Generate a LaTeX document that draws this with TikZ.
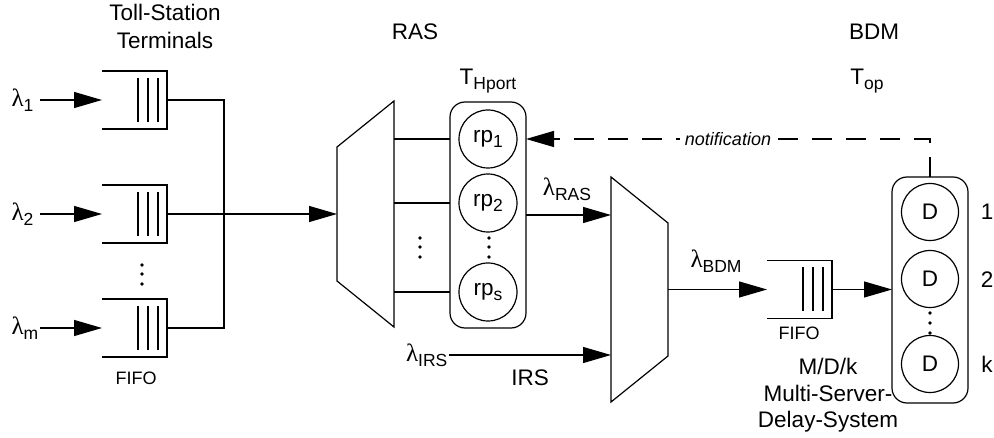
\documentclass[tikz,border=0pt]{standalone}
\usepackage{fontspec}
\setmainfont{Liberation Sans}
\newfontfamily\lamfont{Liberation Serif}
\usetikzlibrary{arrows.meta}
\newcommand\sbs[1]{\raisebox{-5pt}{\fontsize{17.5}{17.5}\selectfont #1}}
\newcommand\lam{{\lamfont\fontsize{25}{25}\selectfont λ}}
\newcommand\fifoq[3]{%
  \node[qbox] (#1) at (#2,#3) {};
  \draw (#1.north west) -- (#1.north east) -- (#1.south east) -- (#1.south west);
  \foreach \dx in {-29,-19,-9}{\draw ([xshift=\dx pt, yshift=-7pt]#1.north east) -- ([xshift=\dx pt, yshift=7pt]#1.south east);}
}
\begin{document}
\begin{tikzpicture}[x=1pt,y=-1pt, line width=1.2pt, font=\fontsize{22.5}{27}\selectfont,
  arr/.style={-{Triangle[length=28pt,width=16pt]}},
  qbox/.style={rectangle, minimum width=65pt, minimum height=58pt, inner sep=0pt, outer sep=0pt},
  srv/.style={circle, draw, minimum size=58pt, inner sep=0pt},
  pool/.style={rectangle, rounded corners=15pt, draw, minimum width=76pt, minimum height=226pt, inner sep=0pt, outer sep=0pt},
  hidden/.style={rectangle, inner sep=0pt, outer sep=0pt},
  lbl/.style={inner sep=1pt},
  smalltext/.style={font=\fontsize{18}{21}\selectfont},
  notestyle/.style={dash pattern=on 20pt off 14pt}]
\useasboundingbox (0,0) rectangle (994,438);

% headings
\node[anchor=base] (h1) at (165,21) {Toll-Station};
\node[anchor=base] (h2) at (165,49) {Terminals};
\node[anchor=base] (hras) at (415,40) {RAS};
\node[anchor=base] (hbdm) at (874,40) {BDM};
\node[anchor=base] (thp) at (488,85) {T\sbs{Hport}};
\node[anchor=base] (top) at (867,85) {T\sbs{op}};

% toll-station queues
\fifoq{q1}{134.5}{100}
\fifoq{q2}{134.5}{214}
\fifoq{qm}{134.5}{328}
\foreach \yy in {265,274,284} \fill (142,\yy) circle (1.9pt);
\node[smalltext] (fifo1) at (136,378) {FIFO};

\node[anchor=west, lbl] (l1) at (10,100) {\lam\sbs{1}};
\node[anchor=west, lbl] (l2) at (10,214) {\lam\sbs{2}};
\node[anchor=west, lbl] (lm) at (10,328) {\lam\sbs{m}};
\draw[arr] ([xshift=5pt]l1.east) -- (l1.east -| q1.west);
\draw[arr] ([xshift=5pt]l2.east) -- (l2.east -| q2.west);
\draw[arr] (lm.east) -- (lm.east -| qm.west);

% trapezoid 1
\node[hidden, minimum width=57pt, minimum height=226pt] (trap1) at (365.5,214) {};
\draw ([yshift=-46pt]trap1.north west) -- (trap1.north east) -- (trap1.south east) -- ([yshift=46pt]trap1.south west) -- cycle;
\coordinate (join) at (224,214);
\draw (q1.east) -- (q1.east -| join) -- (qm.east -| join) -- (qm.east);
\draw[arr] (q2.east) -- (q2.east -| trap1.west);

% RAS pool
\node[pool] (ras) at (488,215) {};
\node[srv] (rp1) at (488,139) {rp\sbs{1}};
\node[srv] (rp2) at (488,203) {rp\sbs{2}};
\node[srv] (rps) at (488,292) {rp\sbs{s}};
\foreach \yy in {238,247,257} {\fill (489,\yy) circle (1.9pt); \fill (420,\yy) circle (1.9pt);}
\draw (rp1 -| trap1.east) -- (rp1 -| ras.west);
\draw (rp2 -| trap1.east) -- (rp2 -| ras.west);
\draw (rps -| trap1.east) -- (rps -| ras.west);

% trapezoid 2
\node[hidden, minimum width=57pt, minimum height=225pt] (trap2) at (639.5,289.5) {};
\draw (trap2.north west) -- ([yshift=-46pt]trap2.north east) -- ([yshift=46pt]trap2.south east) -- (trap2.south west) -- cycle;
\draw[arr] (ras.east) -- (ras.east -| trap2.west);
\node (lras) at (567,189) {\lam\sbs{RAS}};
\node[anchor=east, lbl] (lirs) at (449,355) {\lam\sbs{IRS}};
\draw[arr] (lirs.east) -- (lirs.east -| trap2.west);
\node (irs) at (530,378) {IRS};

% BDM queue
\fifoq{qb}{799.5}{289.5}
\node[smalltext] (fifo2) at (799,333) {FIFO};
\draw[arr] (trap2.east) -- (trap2.east -| qb.west);
\node (lbdm) at (716,261) {\lam\sbs{BDM}};

% BDM pool
\node[pool] (bdm) at (930,290) {};
\node[srv, minimum size=57pt] (d1) at (930,212) {D};
\node[srv, minimum size=57pt] (d2) at (930,279) {D};
\node[srv, minimum size=57pt] (dk) at (930,364) {D};
\foreach \yy in {313,323,333} \fill (930,\yy) circle (1.9pt);
\draw[arr] (qb.east) -- (qb.east -| bdm.west);
\node (n1) at (987,212) {1};
\node (n2) at (987,280) {2};
\node (nk) at (987,364) {k};

\node[anchor=base] (md1) at (828,375) {M/D/k};
\node[anchor=base] (md2) at (828,402) {Multi-Server-};
\node[anchor=base] (md3) at (828,428) {Delay-System};

% notification
\draw[arr, notestyle] (bdm.north) |- (rp1 -| ras.east)
  node[pos=0.75, fill=white, inner sep=5pt, font=\itshape\fontsize{18}{21}\selectfont] (note) {notification};
\end{tikzpicture}
\end{document}
